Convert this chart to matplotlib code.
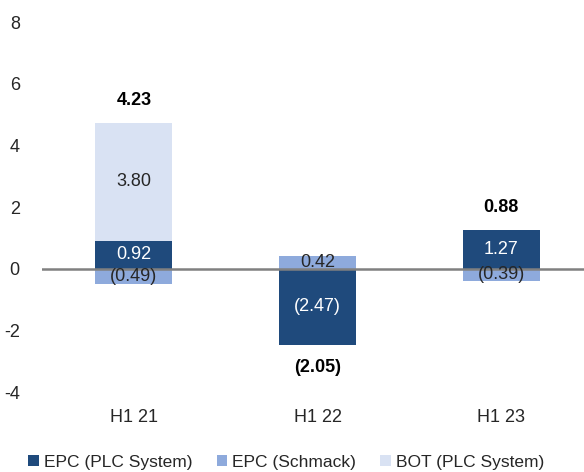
import matplotlib
matplotlib.use("Agg")
import matplotlib.pyplot as plt
import numpy as np

# data
periods = ["H1 21", "H1 22", "H1 23"]
epc_plc = [0.92, -2.47, 1.27]
epc_schmack = [-0.49, 0.42, -0.39]
bot_plc = [3.80, 0.0, 0.0]
totals = [4.23, -2.05, 0.88]

series_names = ["EPC (PLC System)", "EPC (Schmack)", "BOT (PLC System)"]
series_colors = ["#1f4a7c", "#8eaadc", "#d9e2f3"]
label_colors = ["white", "#262626", "#262626"]

plt.rcParams['font.family'] = ['Liberation Sans', 'DejaVu Sans']
plt.rcParams['axes.unicode_minus'] = False


def fmt(v):
    return "({:.2f})".format(abs(v)) if v < 0 else "{:.2f}".format(v)


fig = plt.figure(figsize=(5.84, 4.72), dpi=100)
ax = fig.add_axes([0.072, 0.169, 0.928, 0.784])

x = np.arange(len(periods))
width = 0.42
pos_base = np.zeros(len(periods))
neg_base = np.zeros(len(periods))

for vals, name, col, tcol in zip([epc_plc, epc_schmack, bot_plc], series_names,
                                 series_colors, label_colors):
    vals = np.array(vals)
    bottoms = np.where(vals >= 0, pos_base, neg_base)
    ax.bar(x, vals, width, bottom=bottoms, color=col, label=name, zorder=2)
    for xi, v, b in zip(x, vals, bottoms):
        if v != 0:
            ax.text(xi, b + v / 2, fmt(v), ha="center", va="center",
                    color=tcol, fontsize=13, zorder=4)
    pos_base = pos_base + np.where(vals > 0, vals, 0)
    neg_base = neg_base + np.where(vals < 0, vals, 0)

# totals above / below the stacks
for xi, t, top, bot in zip(x, totals, pos_base, neg_base):
    if t >= 0:
        ax.text(xi, top + 0.45, fmt(t), ha="center", va="bottom",
                fontsize=13, fontweight="bold", color="black")
    else:
        ax.text(xi, bot - 0.45, fmt(t), ha="center", va="top",
                fontsize=13, fontweight="bold", color="black")

ax.axhline(0, color="#808080", lw=1.8, zorder=3)

ax.set_ylim(-4, 8)
ax.set_yticks(range(-4, 9, 2))
ax.set_xlim(-0.5, 2.45)
ax.set_xticks(x)
ax.set_xticklabels(periods)
ax.tick_params(axis="both", length=0, labelsize=13, colors="#262626")
ax.tick_params(axis="x", pad=12)
ax.tick_params(axis="y", pad=16)
for s in ax.spines.values():
    s.set_visible(False)

fig.legend(loc="center", bbox_to_anchor=(0.49, 0.02), ncol=3,
           frameon=False, fontsize=12.5, handlelength=0.6, handleheight=0.6,
           handletextpad=0.3, columnspacing=1.4, labelcolor="#262626")

fig.savefig("out.png", dpi=100)
